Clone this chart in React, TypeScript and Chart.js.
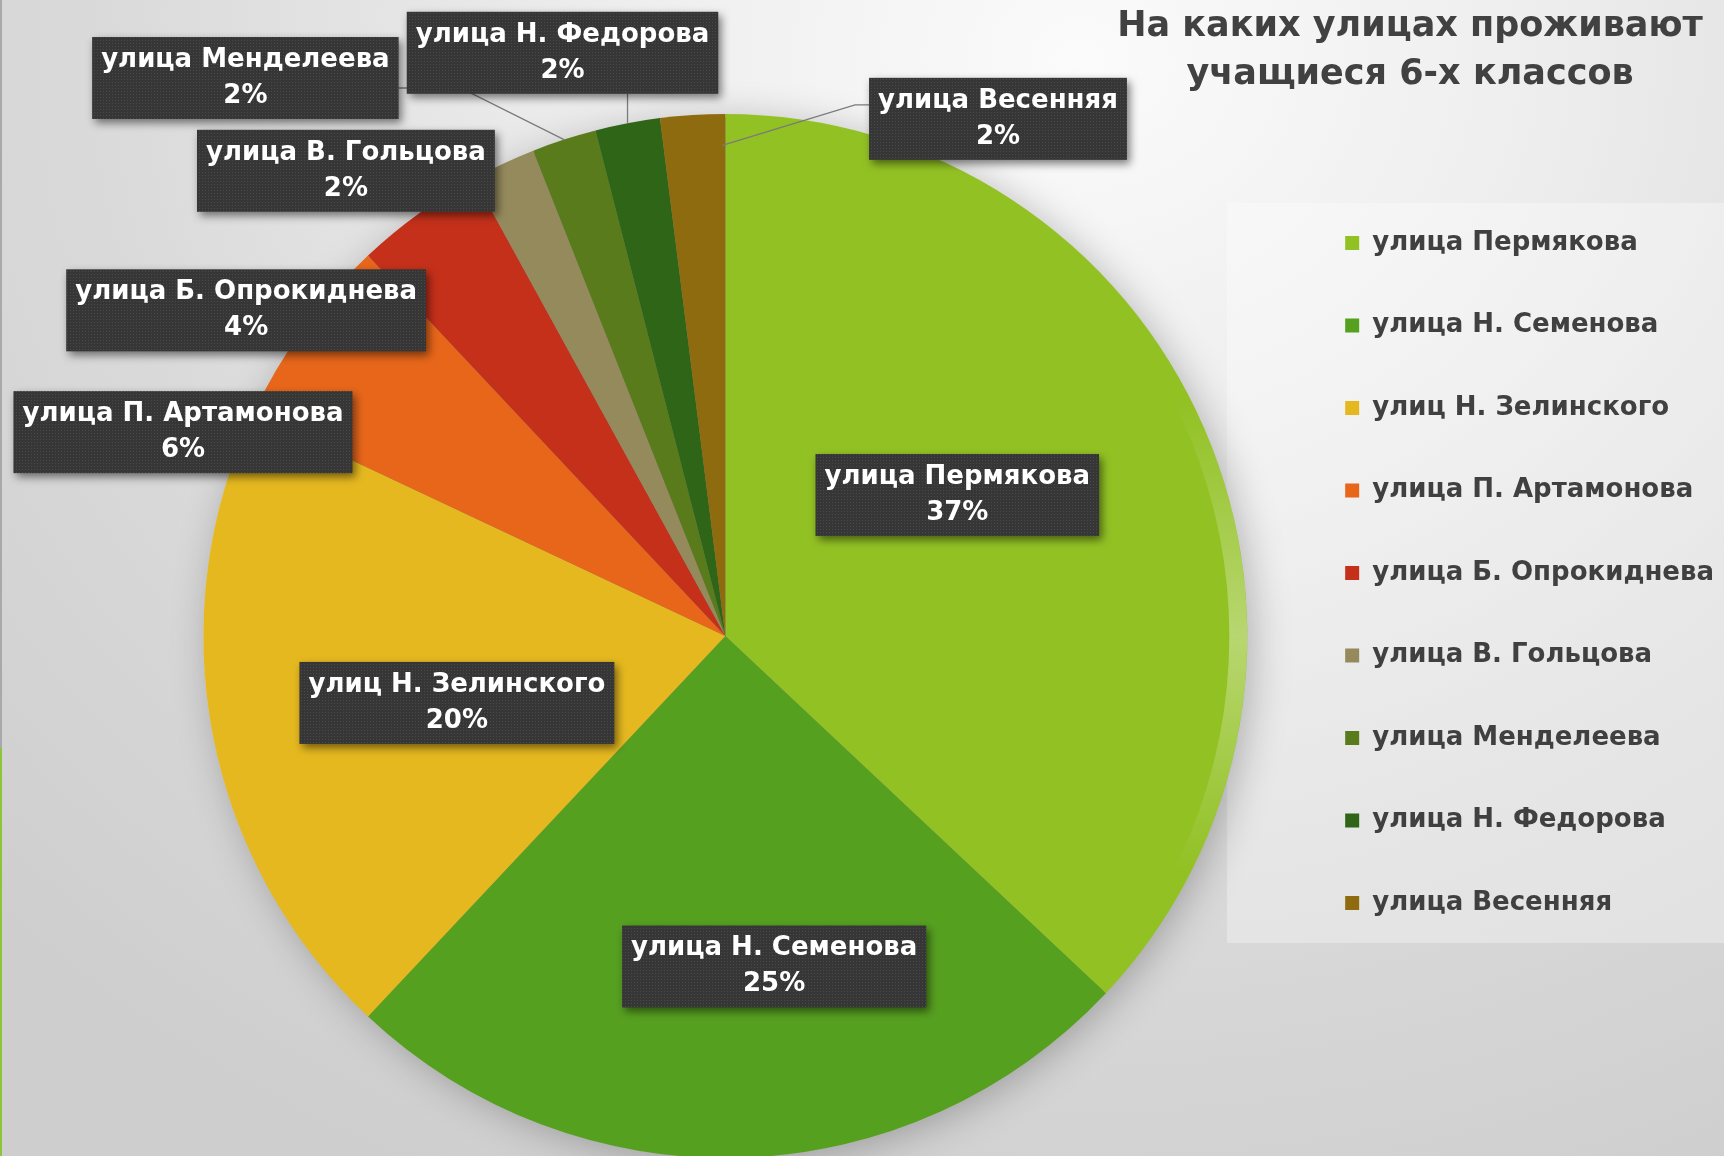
import React, { useEffect, useRef } from 'react';
import { Chart, registerables } from 'chart.js';

Chart.register(...registerables);

const CATEGORIES = [
  'улица Пермякова',
  'улица Н. Семенова',
  'улиц Н. Зелинского',
  'улица П. Артамонова',
  'улица Б. Опрокиднева',
  'улица В. Гольцова',
  'улица Менделеева',
  'улица Н. Федорова',
  'улица Весенняя',
];
const VALUES = [37, 25, 20, 6, 4, 2, 2, 2, 2];
const COLORS = [
  '#92c124',
  '#56a020',
  '#e5b81f',
  '#e7661a',
  '#c4301a',
  '#958a5c',
  '#5a7b1b',
  '#2e6516',
  '#8f6b10',
];
const TITLE_LINES = ['На каких улицах проживают', 'учащиеся 6-х классов'];

// data-label placement: angle (deg, clockwise from 12 o'clock) and distance (fraction of radius)
const LABEL_ANGLES = [58.7, 171.6, 256, 290.6, 304.2, 320.8, 319.3, 344.4, 27.8];
const LABEL_DISTANCES = [0.52, 0.64, 0.53, 1.11, 1.11, 1.15, 1.41, 1.16, 1.12];
const LEADER_SIDES = ['', '', '', '', '', '', 'right', 'bottom', 'left'];
// where the leader touches the slice: fraction along the slice's sweep, and fraction of radius
const LEADER_SWEEP = [0.5, 0.5, 0.5, 0.5, 0.5, 0.5, 0.5, 0.5, 0.95];
const LEADER_TIPS = [1, 1, 1, 1, 1, 1, 1, 1, 0.94];

const FONT_FAMILY = '"DejaVu Sans", "Noto Sans", sans-serif';

function makePattern(): CanvasPattern | string {
  const c = document.createElement('canvas');
  c.width = 3;
  c.height = 3;
  const g = c.getContext('2d');
  if (!g) return '#3a3a3a';
  g.fillStyle = '#363636';
  g.fillRect(0, 0, 3, 3);
  g.fillStyle = '#4a4a4a';
  g.fillRect(1, 1, 1, 1);
  const p = g.createPattern(c, 'repeat');
  return p || '#3a3a3a';
}

export default function App() {
  const canvasRef = useRef<HTMLCanvasElement | null>(null);

  useEffect(() => {
    document.body.style.margin = '0';
    document.body.style.overflow = 'hidden';
    const canvas = canvasRef.current;
    if (!canvas) return;
    const pattern = makePattern();
    const total = VALUES.reduce((a, b) => a + b, 0);

    const pieShadow = {
      id: 'pieShadow',
      beforeDatasetsDraw(chart: any) {
        const meta = chart.getDatasetMeta(0);
        const arc = meta.data[0];
        if (!arc) return;
        const { x, y, outerRadius } = arc.getProps(['x', 'y', 'outerRadius'], true);
        const ctx = chart.ctx;
        ctx.save();
        ctx.shadowColor = 'rgba(0,0,0,0.28)';
        ctx.shadowBlur = 40;
        ctx.shadowOffsetX = 6;
        ctx.shadowOffsetY = 6;
        ctx.fillStyle = '#888';
        ctx.beginPath();
        ctx.arc(x, y, outerRadius - 3, 0, Math.PI * 2);
        ctx.fill();
        ctx.restore();
      },
      afterDatasetsDraw(chart: any) {
        const meta = chart.getDatasetMeta(0);
        const arc = meta.data[0];
        if (!arc) return;
        const { x, y, outerRadius } = arc.getProps(['x', 'y', 'outerRadius'], true);
        const ctx = chart.ctx;
        ctx.save();
        ctx.beginPath();
        ctx.arc(x, y, outerRadius, 0, Math.PI * 2);
        ctx.clip();
        const grad = ctx.createLinearGradient(0, y - outerRadius * 0.45, 0, y + outerRadius * 0.45);
        grad.addColorStop(0, 'rgba(255,255,255,0)');
        grad.addColorStop(0.5, 'rgba(255,255,255,0.35)');
        grad.addColorStop(1, 'rgba(255,255,255,0)');
        ctx.fillStyle = grad;
        ctx.beginPath();
        ctx.arc(x, y, outerRadius, 0, Math.PI * 2);
        ctx.arc(x - 18, y, outerRadius, 0, Math.PI * 2);
        ctx.fill('evenodd');
        ctx.restore();
      },
    };

    const dataLabels = {
      id: 'boxLabels',
      afterDatasetsDraw(chart: any) {
        const ctx = chart.ctx;
        const meta = chart.getDatasetMeta(0);
        ctx.save();
        ctx.font = `bold 26px ${FONT_FAMILY}`;
        const boxes = meta.data.map((arc: any, i: number) => {
          const p = arc.getProps(['x', 'y', 'outerRadius', 'startAngle', 'endAngle'], true);
          const a = (LABEL_ANGLES[i] * Math.PI) / 180;
          const d = LABEL_DISTANCES[i] * p.outerRadius;
          const cx = p.x + d * Math.sin(a);
          const cy = p.y - d * Math.cos(a);
          const line1 = CATEGORIES[i];
          const line2 = Math.round((VALUES[i] / total) * 100) + '%';
          const w = Math.max(ctx.measureText(line1).width, ctx.measureText(line2).width) + 18;
          const h = 82;
          const tipAngle = p.startAngle + (p.endAngle - p.startAngle) * LEADER_SWEEP[i];
          const tr = p.outerRadius * LEADER_TIPS[i];
          const tx = p.x + tr * Math.cos(tipAngle);
          const ty = p.y + tr * Math.sin(tipAngle);
          return { cx, cy, w, h, line1, line2, tx, ty, side: LEADER_SIDES[i] };
        });
        // leader lines
        ctx.strokeStyle = '#7a7a7a';
        ctx.lineWidth = 1.3;
        boxes.forEach((b: any) => {
          if (!b.side) return;
          ctx.beginPath();
          if (b.side === 'right') {
            const sx = b.cx + b.w / 2;
            ctx.moveTo(sx, b.cy + 10);
            ctx.lineTo(sx + 62, b.cy + 10);
            ctx.lineTo(b.tx, b.ty);
          } else if (b.side === 'left') {
            const sx = b.cx - b.w / 2;
            ctx.moveTo(sx, b.cy - 14);
            ctx.lineTo(sx - 14, b.cy - 14);
            ctx.lineTo(b.tx, b.ty);
          } else if (b.side === 'bottom') {
            ctx.moveTo(b.tx, b.cy + b.h / 2);
            ctx.lineTo(b.tx, b.ty);
          }
          ctx.stroke();
        });
        // boxes
        boxes.forEach((b: any) => {
          const bx = b.cx - b.w / 2;
          const by = b.cy - b.h / 2;
          ctx.save();
          ctx.shadowColor = 'rgba(0,0,0,0.5)';
          ctx.shadowBlur = 8;
          ctx.shadowOffsetX = 3;
          ctx.shadowOffsetY = 4;
          ctx.fillStyle = pattern;
          ctx.fillRect(bx, by, b.w, b.h);
          ctx.restore();
          ctx.fillStyle = '#ffffff';
          ctx.textAlign = 'center';
          ctx.textBaseline = 'middle';
          ctx.fillText(b.line1, b.cx, b.cy - 18);
          ctx.fillText(b.line2, b.cx, b.cy + 18);
        });
        ctx.restore();
      },
    };

    const chart = new Chart(canvas, {
      type: 'pie',
      data: {
        labels: CATEGORIES,
        datasets: [
          {
            data: VALUES,
            backgroundColor: COLORS,
            borderWidth: 0,
            radius: 522,
            clip: false,
          } as any,
        ],
      },
      options: {
        animation: false,
        responsive: false,
        maintainAspectRatio: false,
        layout: { padding: { top: 173.5, bottom: 57.5, left: 162, right: 0 } },
        plugins: {
          legend: {
            position: 'right',
            align: 'start',
            labels: {
              boxWidth: 14,
              boxHeight: 14,
              padding: 56.5,
              color: '#404040',
              font: { family: FONT_FAMILY, size: 26, weight: 'bold' },
            },
          },
          tooltip: { enabled: false },
          title: { display: false },
        },
      } as any,
      plugins: [pieShadow, dataLabels],
    });
    return () => chart.destroy();
  }, []);

  return (
    <div
      style={{
        position: 'fixed',
        left: 0,
        top: 0,
        width: 1724,
        height: 1156,
        overflow: 'hidden',
        background:
          'radial-gradient(ellipse 1500px 1250px at 1080px 60px, #fbfbfb 0%, #eeeeee 30%, #dadada 65%, #cecece 100%)',
      }}
    >
      <div
        style={{
          position: 'absolute',
          left: 1227,
          top: 203,
          width: 497,
          height: 740,
          background: 'rgba(255,255,255,0.32)',
        }}
      />
      <div style={{ position: 'absolute', left: 0, top: 0, width: 2, height: 748, background: '#a9a9a9' }} />
      <div style={{ position: 'absolute', left: 0, top: 748, width: 2, height: 408, background: '#8cc43a' }} />
      <canvas
        ref={canvasRef}
        width={1724}
        height={1156}
        style={{ position: 'absolute', left: 0, top: 0, width: 1724, height: 1156 }}
      />
      <div
        style={{
          position: 'absolute',
          left: 1110,
          top: 0,
          width: 600,
          textAlign: 'center',
          fontFamily: FONT_FAMILY,
          fontWeight: 'bold',
          fontSize: 35,
          lineHeight: '48px',
          color: '#414141',
          whiteSpace: 'nowrap',
        }}
      >
        {TITLE_LINES.map((t) => (
          <div key={t}>{t}</div>
        ))}
      </div>
    </div>
  );
}
